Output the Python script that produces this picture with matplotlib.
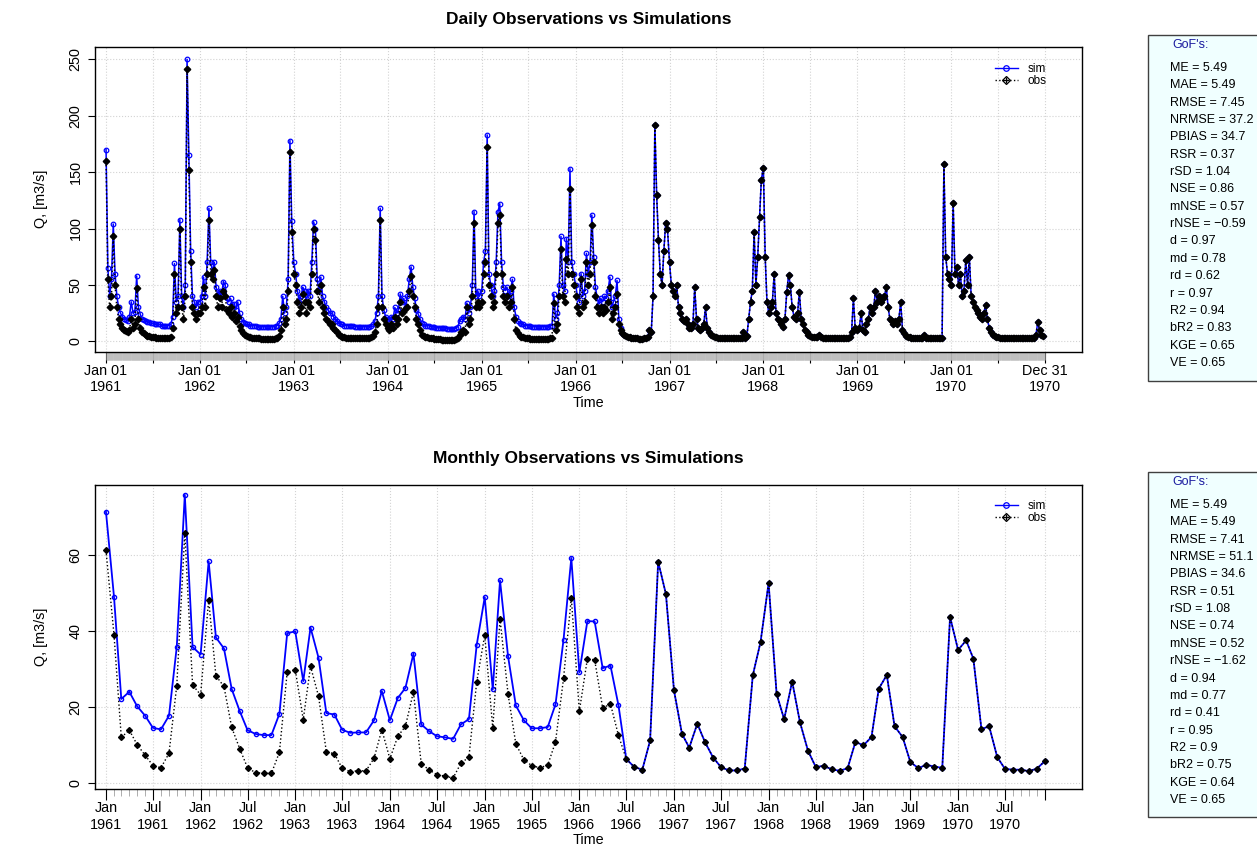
import numpy as np
import matplotlib
matplotlib.use("Agg")
import matplotlib.pyplot as plt
import matplotlib.dates as mdates
from matplotlib.lines import Line2D
from matplotlib.patches import Rectangle
from matplotlib.legend_handler import HandlerTuple

plt.rcParams['font.family'] = ['Liberation Sans', 'DejaVu Sans']

years = list(range(1961, 1971))

# daily panel at one value per week (Jan 01 + 7k days)
obs_1961 = [160, 55, 30, 40, 93, 50, 30, 20, 15, 12,
            10, 9, 8, 10, 20, 12, 15, 47, 20, 12,
            8, 7, 6, 5, 5, 4, 4, 4, 3, 3,
            3, 3, 3, 3, 3, 3, 4, 12, 60, 25,
            30, 100, 30, 20, 40, 241, 152, 70, 30, 25,
            20, 25]
sim_1961 = [170, 65, 40, 55, 104, 60, 40, 30, 25, 22,
            20, 19, 18, 22, 35, 25, 26, 58, 30, 24,
            20, 19, 18, 17, 17, 16, 16, 15, 15, 15,
            15, 14, 14, 14, 14, 14, 15, 22, 69, 35,
            40, 108, 40, 30, 50, 250, 165, 80, 40, 35,
            30, 35]
obs_1962 = [25, 30, 48, 30, 60, 108, 60, 55, 63, 40,
            30, 38, 30, 45, 40, 28, 25, 30, 22, 25,
            18, 22, 14, 10, 7, 6, 5, 4, 4, 3,
            3, 3, 3, 3, 2, 2, 2, 2, 2, 2,
            2, 2, 3, 3, 5, 10, 30, 15, 20, 45,
            168, 97]
sim_1962 = [35, 40, 57, 40, 70, 118, 70, 62, 70, 48,
            40, 45, 40, 53, 50, 38, 35, 38, 33, 33,
            28, 35, 25, 20, 17, 16, 15, 15, 14, 14,
            14, 14, 13, 13, 13, 13, 13, 13, 13, 13,
            13, 13, 14, 14, 16, 20, 40, 25, 30, 55,
            178, 107]
obs_1963 = [60, 50, 35, 25, 30, 42, 35, 25, 35, 30,
            60, 100, 90, 45, 35, 50, 30, 25, 20, 18,
            15, 15, 12, 10, 8, 6, 5, 4, 4, 3,
            3, 3, 3, 3, 3, 3, 3, 3, 3, 3,
            3, 3, 3, 4, 5, 8, 15, 30, 108, 30,
            20, 15]
sim_1963 = [70, 60, 45, 35, 40, 48, 45, 35, 45, 40,
            70, 106, 100, 55, 45, 57, 40, 35, 30, 28,
            25, 25, 22, 20, 18, 16, 15, 15, 14, 14,
            14, 14, 14, 14, 13, 13, 13, 13, 13, 13,
            13, 13, 13, 14, 15, 18, 25, 40, 118, 40,
            28, 22]
obs_1964 = [12, 10, 15, 12, 22, 15, 20, 35, 25, 28,
            20, 30, 45, 58, 40, 30, 20, 15, 10, 6,
            5, 4, 4, 3, 3, 3, 2, 2, 2, 2,
            1, 1, 1, 1, 1, 1, 1, 1, 2, 3,
            6, 8, 10, 8, 30, 15, 20, 40, 105, 30,
            35, 30]
sim_1964 = [20, 18, 22, 20, 30, 25, 28, 42, 35, 38,
            30, 40, 55, 66, 48, 38, 28, 24, 20, 16,
            15, 14, 14, 14, 13, 13, 13, 12, 12, 12,
            12, 12, 12, 11, 11, 11, 11, 11, 12, 13,
            18, 20, 22, 20, 34, 25, 30, 50, 115, 40,
            45, 40]
obs_1965 = [35, 60, 70, 172, 50, 40, 30, 35, 60, 105,
            112, 60, 40, 35, 40, 30, 35, 48, 20, 10,
            7, 5, 4, 4, 3, 3, 3, 2, 2, 2,
            2, 2, 2, 2, 2, 2, 2, 2, 3, 3,
            34, 10, 15, 40, 82, 40, 35, 73, 60, 135,
            60, 50]
sim_1965 = [45, 70, 80, 183, 60, 50, 40, 45, 70, 115,
            122, 70, 48, 45, 48, 40, 45, 55, 30, 22,
            18, 16, 15, 15, 14, 14, 14, 14, 13, 13,
            13, 13, 13, 13, 13, 13, 13, 13, 14, 14,
            42, 20, 25, 50, 93, 50, 45, 91, 70, 153,
            70, 60]
obs_1966 = [40, 30, 25, 55, 30, 35, 70, 50, 60, 103,
            70, 40, 30, 25, 30, 25, 30, 28, 35, 48,
            20, 25, 30, 42, 15, 10, 7, 6, 5, 4,
            4, 3, 3, 3, 3, 2, 2, 2, 3, 3,
            4, 10, 8, 40, 192, 130, 90, 60, 50, 80,
            105, 100]
sim_1966 = [50, 40, 35, 60, 40, 45, 78, 60, 70, 112,
            75, 48, 38, 33, 38, 35, 40, 38, 45, 57,
            30, 35, 40, 54, 20, 12, 7, 6, 5, 4,
            4, 3, 3, 3, 3, 2, 2, 2, 3, 3,
            4, 10, 8, 40, 192, 130, 90, 60, 50, 80,
            105, 100]
obs_1967 = [70, 50, 45, 40, 50, 30, 25, 20, 18, 20,
            15, 12, 12, 15, 48, 20, 12, 10, 12, 15,
            30, 12, 8, 6, 5, 4, 4, 3, 3, 3,
            3, 3, 3, 3, 3, 3, 3, 3, 3, 3,
            3, 8, 3, 5, 20, 35, 45, 97, 50, 75,
            110, 143]
obs_1968 = [154, 75, 35, 25, 30, 35, 60, 25, 20, 18,
            15, 13, 20, 44, 59, 50, 30, 22, 20, 25,
            44, 20, 15, 10, 8, 6, 5, 4, 4, 4,
            4, 6, 4, 3, 3, 3, 3, 3, 3, 3,
            3, 3, 3, 3, 3, 3, 3, 3, 4, 8,
            38, 12]
obs_1969 = [10, 12, 25, 10, 8, 15, 20, 30, 25, 30,
            45, 35, 40, 35, 38, 40, 48, 30, 20, 18,
            15, 18, 15, 20, 35, 10, 7, 5, 4, 4,
            3, 3, 3, 3, 3, 3, 3, 6, 3, 3,
            3, 3, 3, 3, 3, 3, 3, 3, 157, 75,
            60, 55]
obs_1970 = [50, 123, 60, 66, 50, 60, 40, 45, 72, 50,
            75, 40, 35, 30, 28, 25, 22, 20, 25, 32,
            20, 12, 8, 6, 5, 4, 4, 3, 3, 3,
            3, 3, 3, 3, 3, 3, 3, 3, 3, 3,
            3, 3, 3, 3, 3, 3, 3, 6, 17, 10,
            6, 5]
# from mid-1966 on the two daily curves coincide in the picture
sim_1967 = obs_1967
sim_1968 = obs_1968
sim_1969 = obs_1969
sim_1970 = obs_1970

obs_daily = np.concatenate([obs_1961, obs_1962, obs_1963, obs_1964, obs_1965,
                            obs_1966, obs_1967, obs_1968, obs_1969, obs_1970])
sim_daily = np.concatenate([sim_1961, sim_1962, sim_1963, sim_1964, sim_1965,
                            sim_1966, sim_1967, sim_1968, sim_1969, sim_1970])

# monthly panel, Jan 1961 .. Dec 1970
sim_monthly = [71.3, 48.9, 22.1, 24.0, 20.2, 17.7, 14.5, 14.1, 17.7, 35.8, 75.8, 35.8,
               33.8, 58.3, 38.3, 35.4, 24.7, 18.9, 13.9, 12.9, 12.6, 12.6, 18.2, 39.4,
               39.9, 26.8, 40.9, 32.9, 18.4, 18.0, 14.0, 13.2, 13.3, 13.3, 16.5, 24.2,
               16.5, 22.4, 25.0, 34.0, 15.4, 13.6, 12.3, 12.0, 11.6, 15.4, 16.8, 36.3,
               48.9, 24.6, 53.3, 33.3, 20.4, 16.5, 14.4, 14.4, 14.7, 20.7, 37.7, 59.2,
               29.1, 42.6, 42.5, 30.2, 30.9, 20.4, 6.3, 4.2, 3.5, 11.2, 58.2, 49.7,
               24.4, 12.9, 9.3, 15.6, 10.7, 6.7, 4.2, 3.3, 3.3, 3.8, 28.3, 37.1,
               52.6, 23.4, 16.8, 26.7, 16.0, 8.5, 4.2, 4.5, 3.6, 3.2, 3.9, 10.8,
               9.9, 12.1, 24.8, 28.4, 14.9, 12.1, 5.5, 3.9, 4.8, 4.3, 4.0, 43.7,
               35.0, 37.5, 32.7, 14.2, 14.9, 6.8, 3.7, 3.5, 3.5, 3.1, 3.8, 5.7]
obs_monthly = [61.2, 38.9, 12.0, 13.9, 10.1, 7.3, 4.6, 4.0, 7.8, 25.6, 65.8, 25.8,
               23.2, 48.2, 28.2, 25.4, 14.6, 9.0, 4.0, 2.7, 2.6, 2.5, 8.1, 29.2,
               29.8, 16.7, 30.7, 22.8, 8.2, 7.7, 3.9, 3.0, 3.2, 3.2, 6.5, 14.0,
               6.4, 12.3, 14.9, 24.0, 5.1, 3.4, 2.2, 1.8, 1.3, 5.2, 6.8, 26.6,
               38.9, 14.4, 43.2, 23.4, 10.3, 6.1, 4.6, 4.0, 4.7, 10.8, 27.5, 48.7,
               18.9, 32.7, 32.4, 19.7, 20.8, 12.5, 6.3, 4.2, 3.5, 11.2, 58.2, 49.7,
               24.4, 12.9, 9.3, 15.6, 10.7, 6.7, 4.2, 3.3, 3.3, 3.8, 28.3, 37.1,
               52.6, 23.4, 16.8, 26.7, 16.0, 8.5, 4.2, 4.5, 3.6, 3.2, 3.9, 10.8,
               9.9, 12.1, 24.8, 28.4, 14.9, 12.1, 5.5, 3.9, 4.8, 4.3, 4.0, 43.7,
               35.0, 37.5, 32.7, 14.2, 14.9, 6.8, 3.7, 3.5, 3.5, 3.1, 3.8, 5.7]

gof_names = ["ME", "MAE", "RMSE", "NRMSE", "PBIAS", "RSR", "rSD", "NSE", "mNSE",
             "rNSE", "d", "md", "rd", "r", "R2", "bR2", "KGE", "VE"]
gof_daily = ["5.49", "5.49", "7.45", "37.2", "34.7", "0.37", "1.04", "0.86", "0.57",
             "\u22120.59", "0.97", "0.78", "0.62", "0.97", "0.94", "0.83", "0.65", "0.65"]
gof_monthly = ["5.49", "5.49", "7.41", "51.1", "34.6", "0.51", "1.08", "0.74", "0.52",
               "\u22121.62", "0.94", "0.77", "0.41", "0.95", "0.9", "0.75", "0.64", "0.65"]

W, H = 1257, 846
fig = plt.figure(figsize=(W / 100, H / 100), dpi=100)
ax1 = fig.add_axes([95 / W, 1 - 351.7 / H, 987 / W, 305 / H])
ax2 = fig.add_axes([95 / W, 1 - 789.3 / H, 987 / W, 304.3 / H])

wk_dates = np.concatenate([np.datetime64(f"{y}-01-01") + 7 * np.arange(52) for y in years])
month_dates = np.arange(np.datetime64("1961-01"), np.datetime64("1971-01")).astype("datetime64[D]")

# ---- daily ----
ax1.plot(wk_dates, sim_daily, color="blue", lw=1.1, marker="o", ms=3.3, mfc="none", mew=0.9, zorder=3)
ax1.plot(wk_dates, obs_daily, color="black", lw=1.1, ls=":", marker="D", ms=3.3, zorder=4)

d0 = mdates.date2num(np.datetime64("1961-01-01"))
d1 = mdates.date2num(np.datetime64("1970-12-31"))
ax1.set_xlim(d0 - 43, d1 + 144)
ax1.set_ylim(-9.2, 261.2)

pos, labs = [], []
for y in years:
    pos += [np.datetime64(f"{y}-01-01"), np.datetime64(f"{y}-07-01")]
    labs += [f"Jan 01\n{y}", ""]
pos.append(np.datetime64("1970-12-31"))
labs.append("Dec 31\n1970")
ax1.set_xticks(mdates.date2num(np.array(pos)), labs)
days = np.arange(np.datetime64("1961-01-01"), np.datetime64("1971-01-01"))
ax1.set_xticks(mdates.date2num(days), minor=True)
ax1.tick_params(axis="x", which="major", length=8, width=0.8, pad=1, labelsize=10.4)
ax1.tick_params(axis="x", which="minor", length=5.8, width=0.4, color="#bdbdbd")
ax1.set_yticks([0, 50, 100, 150, 200, 250])
ax1.set_title("Daily Observations vs Simulations", fontsize=12.5, fontweight="bold", pad=16)

# ---- monthly ----
ax2.plot(month_dates, sim_monthly, color="blue", lw=1.3, marker="o", ms=3.0, mfc="none", mew=1.0, zorder=3)
ax2.plot(month_dates, obs_monthly, color="black", lw=1, ls=":", marker="D", ms=3.0, zorder=4)

m0 = mdates.date2num(np.datetime64("1961-01-01"))
m1 = mdates.date2num(np.datetime64("1970-12-01"))
ax2.set_xlim(m0 - 42.4, m1 + 144)
ax2.set_ylim(-1.66, 78.4)

mpos, mlabs = [], []
for y in years:
    mpos += [np.datetime64(f"{y}-01-01"), np.datetime64(f"{y}-07-01")]
    mlabs += [f"Jan\n{y}", f"Jul\n{y}"]
mpos.append(np.datetime64("1970-12-01"))
mlabs.append("")
ax2.set_xticks(mdates.date2num(np.array(mpos)), mlabs)
ax2.set_xticks(mdates.date2num(month_dates), minor=True)
ax2.tick_params(axis="x", which="major", length=7.7, width=0.8, pad=1, labelsize=10.4)
ax2.tick_params(axis="x", which="minor", length=5, width=0.6, color="#a0a0a0")
ax2.set_yticks([0, 20, 40, 60])
ax2.set_title("Monthly Observations vs Simulations", fontsize=12.5, fontweight="bold", pad=16)

for ax, top_frac in [(ax1, 0.947), (ax2, 0.951)]:
    ax.grid(True, which="major", color="#d3d3d3", ls=":", lw=0.8)
    ax.tick_params(axis="y", length=5, width=0.8, pad=4, labelsize=10.4)
    plt.setp(ax.get_yticklabels(), rotation=90, va="center")
    for s in ax.spines.values():
        s.set_linewidth(1.0)
    ax.set_ylabel("Q, [m3/s]", fontsize=10.4)
    ax.yaxis.set_label_coords(-0.048, 0.5)
    ax.set_xlabel("Time", fontsize=10.4)
    ax.xaxis.set_label_coords(0.5, -0.145)
    h_sim = Line2D([], [], color="blue", lw=1, marker="o", ms=4, mfc="none", mew=0.9)
    h_obs = (Line2D([], [], color="black", lw=1, ls=":", marker="D", ms=4.5, mfc="none", mew=0.9),
             Line2D([], [], ls="none", color="black", marker="+", ms=4.5, mew=0.9))
    ax.legend([h_sim, h_obs], ["sim", "obs"], loc="upper left", bbox_to_anchor=(0.912, top_frac),
              frameon=False, fontsize=8.5, handlelength=1.9, handletextpad=0.85,
              labelspacing=0.0, borderpad=0, borderaxespad=0,
              handler_map={tuple: HandlerTuple(ndivide=1, pad=0)})

# ---- GoF boxes ----
for top, bottom, vals in [(35, 380.7, gof_daily), (472, 816.7, gof_monthly)]:
    fig.add_artist(Rectangle((1148 / W, 1 - bottom / H), (1265 - 1148) / W, (bottom - top) / H,
                             transform=fig.transFigure, facecolor="#F0FFFF", edgecolor="#404040", lw=1))
    fig.text(1191 / W, 1 - (top + 10) / H, "GoF's:", color="#1c1ca0", ha="center", va="center", fontsize=9)
    for i, (n, v) in enumerate(zip(gof_names, vals)):
        fig.text(1170 / W, 1 - (top + 33 + i * 17.35) / H, f"{n} = {v}", ha="left", va="center", fontsize=9)

fig.savefig("out.png", dpi=100)
